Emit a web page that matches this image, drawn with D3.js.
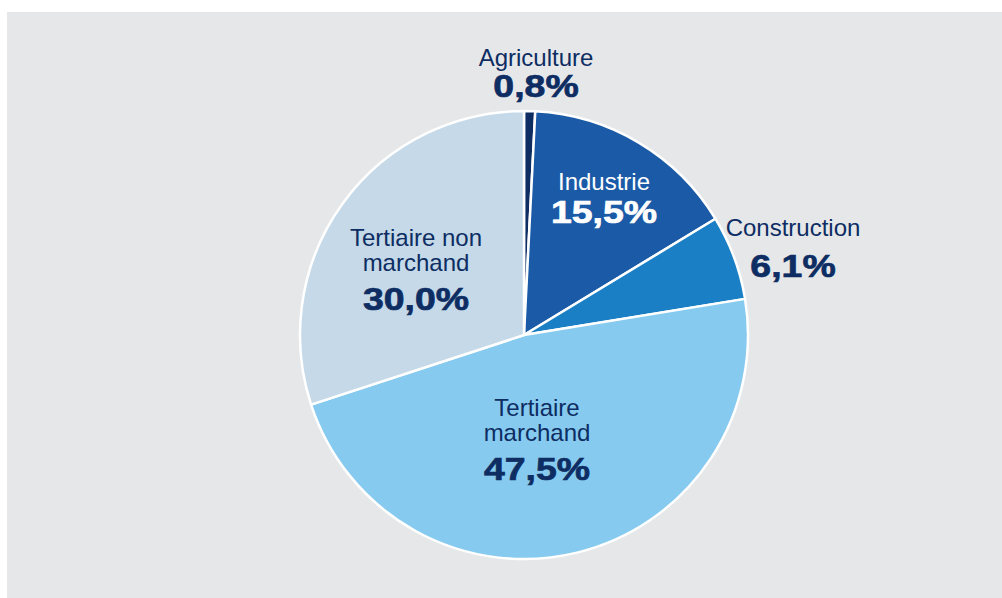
<!DOCTYPE html>
<html>
<head>
<meta charset="utf-8">
<script src="https://cdn.jsdelivr.net/npm/d3@7"></script>
<style>
  html, body { margin: 0; padding: 0; background: #fff; }
  #chart-container { width: 1002px; height: 598px; }
</style>
</head>
<body>
<div id="chart-container"></div>
<script>
// Sectors, clockwise from 12 o'clock
const sectors = ["Agriculture", "Industrie", "Construction", "Tertiaire marchand", "Tertiaire non marchand"];
const shares = [0.8, 15.5, 6.1, 47.5, 30.0];
const shareLabels = ["0,8%", "15,5%", "6,1%", "47,5%", "30,0%"];
const nameLines = [["Agriculture"], ["Industrie"], ["Construction"], ["Tertiaire", "marchand"], ["Tertiaire non", "marchand"]];

const width = 1002;
const height = 598;
const cx = 524, cy = 335, radius = 224;

const colorPalette = ["#0d2d63", "#1a5aa6", "#1a7fc4", "#87caef", "#c5d9e8"];
const textColor = ["#0d2d63", "#ffffff", "#0d2d63", "#0d2d63", "#0d2d63"];

// label layout: center x, baseline of first line, gap to the percentage baseline
const labelPos = [[536, 66], [604, 190], [793, 236], [537, 416], [416, 246]];
const pctGap = [31, 33, 41, 39, 39];

const data = sectors.map((s, i) => ({ sector: s, value: shares[i], label: shareLabels[i], lines: nameLines[i] }));

const svg = d3.create("svg")
  .attr("width", width)
  .attr("height", height)
  .attr("viewBox", [0, 0, width, height]);

// gray panel
svg.append("rect")
  .attr("x", 7)
  .attr("y", 12)
  .attr("width", width - 7)
  .attr("height", height - 12)
  .attr("fill", "#e6e7e9");

const pie = d3.pie().sort(null).value(d => d.value);
const arc = d3.arc().innerRadius(0).outerRadius(radius);

const g = svg.append("g").attr("transform", `translate(${cx},${cy})`);

g.selectAll("path")
  .data(pie(data))
  .join("path")
  .attr("d", arc)
  .attr("fill", (d, i) => colorPalette[i])
  .attr("stroke", "#fff")
  .attr("stroke-width", 2.5)
  .attr("stroke-linejoin", "round");

// labels
const labels = svg.append("g")
  .attr("font-family", "'Liberation Sans', Arial, sans-serif")
  .attr("text-anchor", "middle");

data.forEach((d, i) => {
  const [x, y] = labelPos[i];
  const lg = labels.append("g").attr("fill", textColor[i]);
  d.lines.forEach((line, j) => {
    lg.append("text")
      .attr("x", x)
      .attr("y", y + j * 25)
      .attr("font-size", 24)
      .text(line);
  });
  // the bold figures are drawn a bit wider and heavier than the regular face
  lg.append("text")
    .attr("transform", `translate(${x},${y + (d.lines.length - 1) * 25 + pctGap[i]}) scale(1.17,1)`)
    .attr("font-size", 32)
    .attr("font-weight", "bold")
    .attr("stroke", textColor[i])
    .attr("stroke-width", 0.7)
    .text(d.label);
});

document.getElementById("chart-container").appendChild(svg.node());
</script>
</body>
</html>
